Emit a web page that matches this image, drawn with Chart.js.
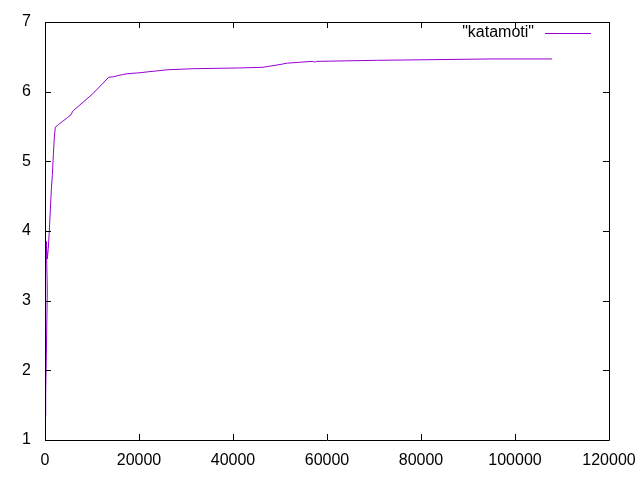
<!DOCTYPE html>
<html>
<head>
<meta charset="utf-8">
<script src="https://cdn.jsdelivr.net/npm/chart.js@4"></script>
<style>
  html, body { margin: 0; padding: 0; background: #fff; }
  #wrap { width: 640px; height: 480px; }
</style>
</head>
<body>
<div id="wrap"><canvas id="chart"></canvas></div>
<script>
// values
var seriesLabel = '"katamoti"';
var xValues = [50, 150, 280, 490, 280, 490, 700, 920, 1130, 1350, 1560, 1780, 1990, 2200,
  2900, 4830, 5550, 5900, 10170, 13530, 14600, 15520, 16450, 17870, 20000, 21930, 24070,
  26200, 31760, 41160, 46370, 47720, 49150, 50430, 51630, 53770, 56840, 57400, 57800,
  70590, 95300, 107900];
var yValues = [1.34, 1.7, 2.2, 3.15, 3.85, 3.6, 3.75, 4.0, 4.3, 4.6, 4.8, 5.1, 5.35, 5.49,
  5.53, 5.63, 5.67, 5.72, 5.97, 6.205, 6.215, 6.23, 6.245, 6.26, 6.27, 6.285, 6.30,
  6.315, 6.33, 6.34, 6.35, 6.365, 6.38, 6.395, 6.41, 6.42, 6.435, 6.425, 6.435,
  6.45, 6.47, 6.47];
var xTicks = [0, 20000, 40000, 60000, 80000, 100000, 120000];
var yTicks = [1, 2, 3, 4, 5, 6, 7];

var lineColor = 'rgb(148, 0, 211)';
var fontFamily = '"Liberation Sans", Arial, sans-serif';

var points = xValues.map(function (x, i) {
    return { x: x, y: yValues[i] };
});

// gnuplot-like frame, inward ticks and legend
var gnuplotFrame = {
    id: 'gnuplotFrame',
    afterDraw: function (chart) {
        var ctx = chart.ctx;
        var a = chart.chartArea;
        var xs = chart.scales.x;
        var ys = chart.scales.y;
        var tl = 6;
        ctx.save();
        ctx.strokeStyle = '#000';
        ctx.lineWidth = 1;
        ctx.beginPath();
        ctx.rect(Math.round(a.left) + 0.5, Math.round(a.top) + 0.5,
            Math.round(a.right - a.left), Math.round(a.bottom - a.top));
        xTicks.forEach(function (v) {
            var px = Math.round(xs.getPixelForValue(v)) + 0.5;
            ctx.moveTo(px, a.bottom); ctx.lineTo(px, a.bottom - tl);
            ctx.moveTo(px, a.top); ctx.lineTo(px, a.top + tl);
        });
        yTicks.forEach(function (v) {
            var py = Math.round(ys.getPixelForValue(v)) + 0.5;
            ctx.moveTo(a.left, py); ctx.lineTo(a.left + tl, py);
            ctx.moveTo(a.right, py); ctx.lineTo(a.right - tl, py);
        });
        ctx.stroke();

        // legend
        ctx.font = '16px ' + fontFamily;
        ctx.fillStyle = '#000';
        ctx.textAlign = 'right';
        ctx.textBaseline = 'middle';
        ctx.fillText(seriesLabel, 534, 33);
        ctx.strokeStyle = lineColor;
        ctx.beginPath();
        ctx.moveTo(545, 33.5);
        ctx.lineTo(591, 33.5);
        ctx.stroke();
        ctx.restore();
    }
};

new Chart(document.getElementById('chart'), {
    type: 'line',
    data: {
        datasets: [{
            label: seriesLabel,
            data: points,
            borderColor: lineColor,
            borderWidth: 1,
            pointRadius: 0,
            tension: 0,
            fill: false
        }]
    },
    options: {
        responsive: true,
        maintainAspectRatio: false,
        animation: false,
        layout: { padding: { top: 22, right: 31, left: 0, bottom: 0 } },
        plugins: {
            legend: { display: false },
            tooltip: { enabled: false }
        },
        scales: {
            x: {
                type: 'linear',
                min: 0,
                max: 120000,
                afterFit: function (scale) {
                    scale.height = 40;
                    scale.paddingLeft = 0;
                    scale.paddingRight = 0;
                },
                afterBuildTicks: function (scale) {
                    scale.ticks = xTicks.map(function (v) { return { value: v }; });
                },
                grid: { display: false, drawTicks: false },
                border: { display: false },
                ticks: {
                    color: '#000',
                    padding: 11,
                    maxRotation: 0,
                    autoSkip: false,
                    font: { family: fontFamily, size: 16 },
                    callback: function (v) { return String(v); }
                }
            },
            y: {
                min: 1,
                max: 7,
                afterFit: function (scale) {
                    scale.width = 45;
                    scale.paddingTop = 0;
                    scale.paddingBottom = 0;
                },
                afterBuildTicks: function (scale) {
                    scale.ticks = yTicks.map(function (v) { return { value: v }; });
                },
                grid: { display: false, drawTicks: false },
                border: { display: false },
                ticks: {
                    color: '#000',
                    padding: 14,
                    autoSkip: false,
                    font: { family: fontFamily, size: 16 },
                    callback: function (v) { return String(v); }
                }
            }
        }
    },
    plugins: [gnuplotFrame]
});
</script>
</body>
</html>
